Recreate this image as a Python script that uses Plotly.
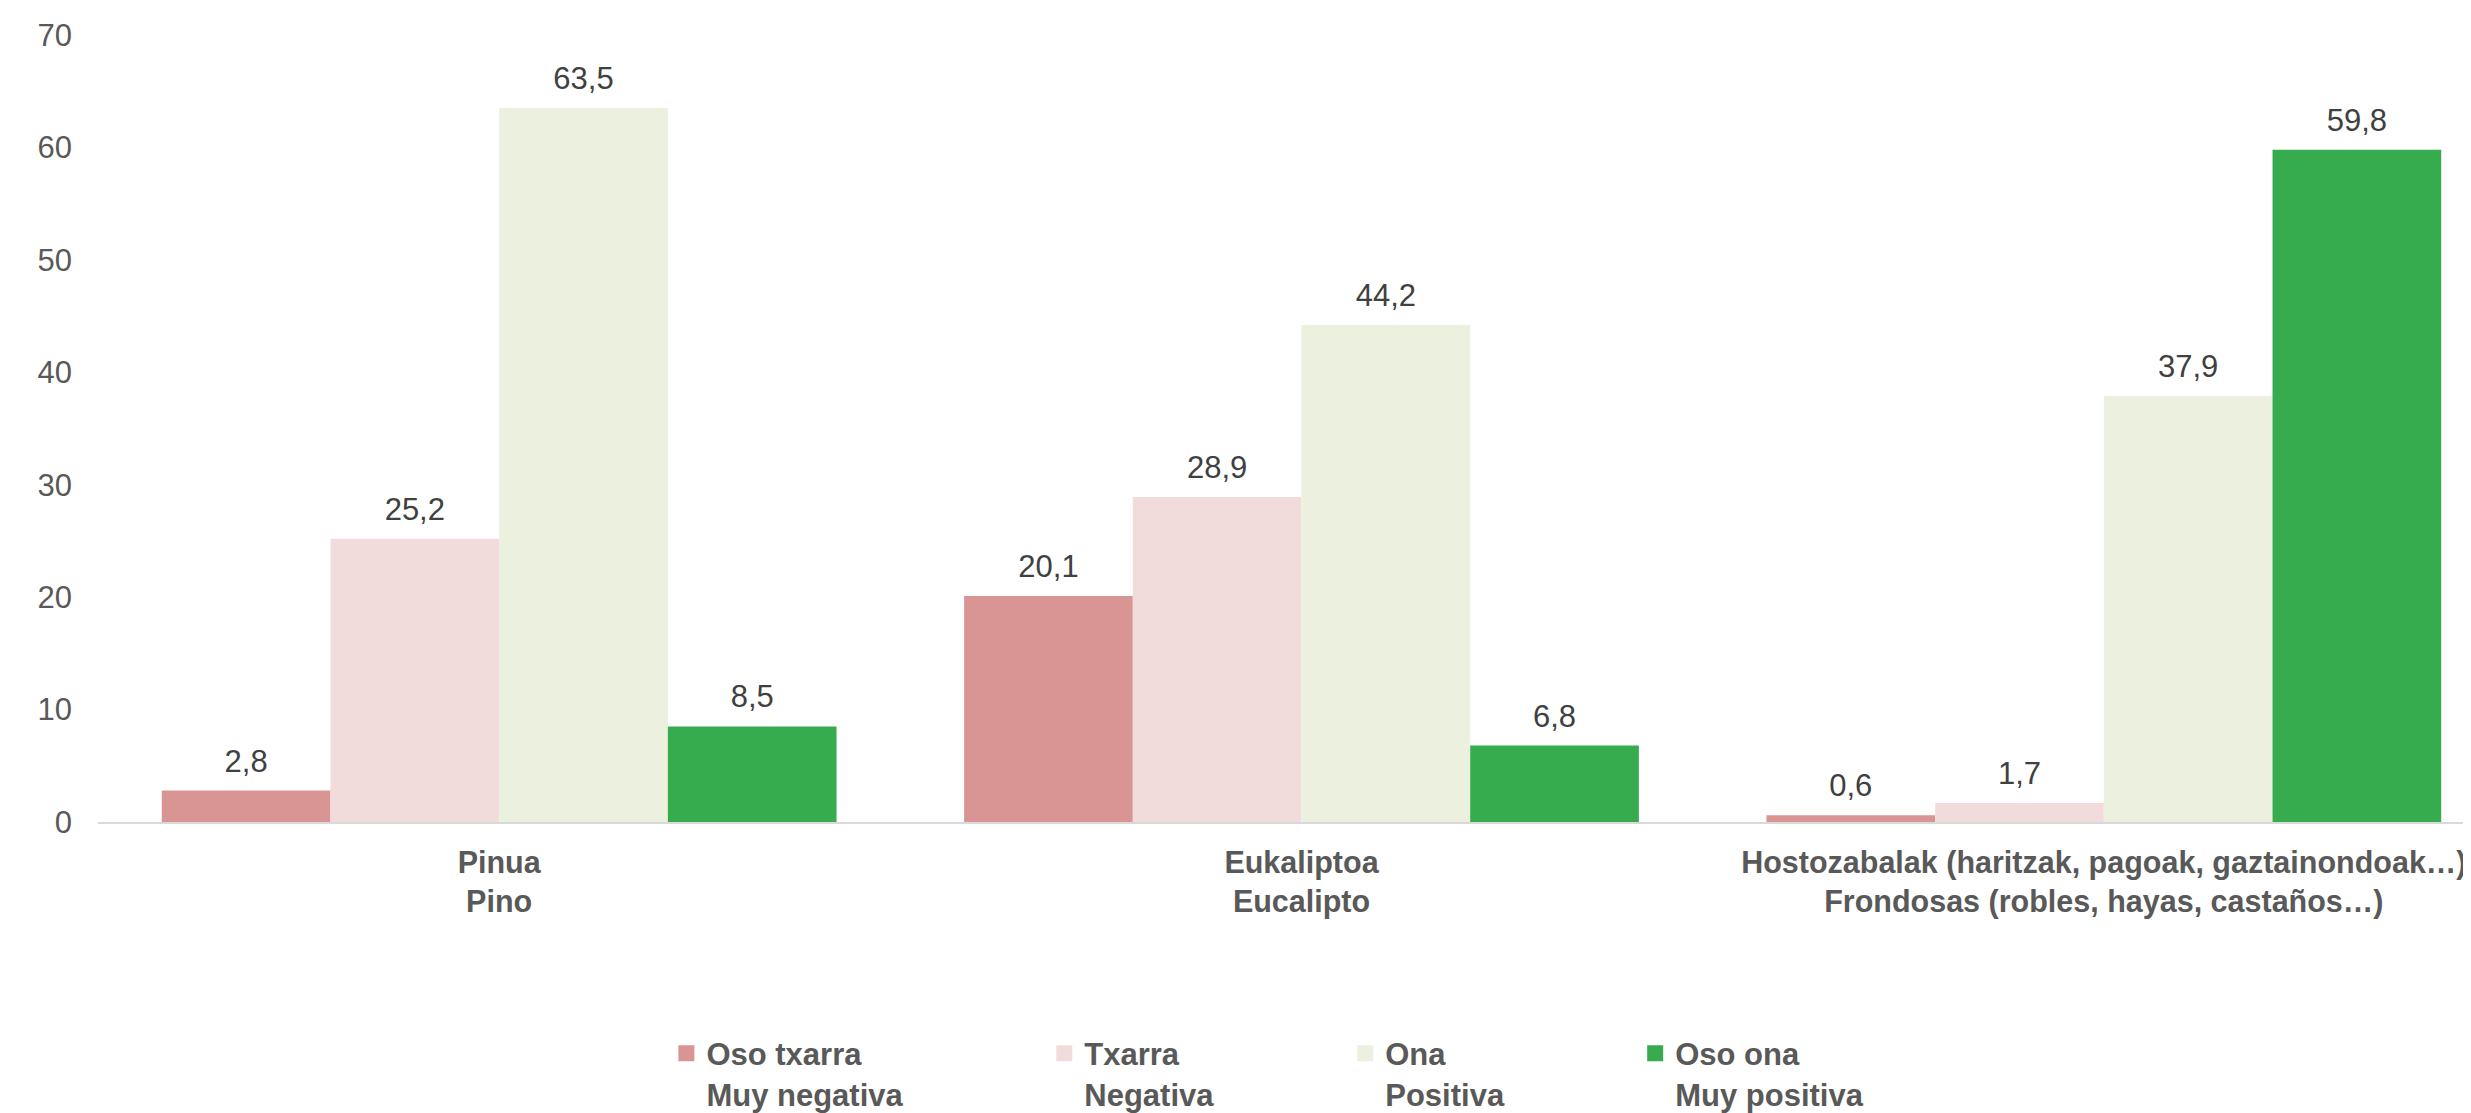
import plotly.graph_objects as go

categories = ["<b>Pinua</b><br><b>Pino</b>",
              "<b>Eukaliptoa</b><br><b>Eucalipto</b>",
              "<b>Hostozabalak (haritzak, pagoak, gaztainondoak…)</b><br><b>Frondosas (robles, hayas, castaños…)</b>"]
series_names = ["<b>Oso txarra</b><br><b>Muy negativa</b>",
                "<b>Txarra</b><br><b>Negativa</b>",
                "<b>Ona</b><br><b>Positiva</b>",
                "<b>Oso ona</b><br><b>Muy positiva</b>"]
oso_txarra = [2.8, 20.1, 0.6]
txarra = [25.2, 28.9, 1.7]
ona = [63.5, 44.2, 37.9]
oso_ona = [8.5, 6.8, 59.8]
y_ticks = [0, 10, 20, 30, 40, 50, 60, 70]

colors = ["#D99594", "#F2DCDB", "#EBF1DE", "#37AC4E"]
values = [oso_txarra, txarra, ona, oso_ona]
legend_ids = ["legend", "legend2", "legend3", "legend4"]

W, H = 2471, 1113
L, R, T, B = 89.5, 0, 26.5, 280.5
pw = W - L - R
ph = H - T - B
legend_px = [658, 1036, 1337, 1627]
legend_top_px = 1042
GAP = 0.159

FONT = "Liberation Sans, Arial, sans-serif"
FS = 31
fig = go.Figure()
for i, (name, vals, col, lid) in enumerate(zip(series_names, values, colors, legend_ids)):
    grp = f"s{i}"
    fig.add_trace(go.Bar(
        x=categories, y=vals, name=name, showlegend=False,
        offsetgroup=grp, alignmentgroup="a",
        marker=dict(color=col, line=dict(width=0)),
        hoverinfo="x+y",
    ))
    # value labels, sitting above each bar
    fig.add_trace(go.Scatter(
        x=categories, y=vals, mode="markers+text", showlegend=False,
        offsetgroup=grp, alignmentgroup="a",
        marker=dict(size=16.4, opacity=0),
        texttemplate="%{y:.1f}", textposition="top center",
        textfont=dict(family=FONT, size=FS, color="#404040"),
        cliponaxis=False, hoverinfo="skip",
    ))
    # legend entry
    fig.add_trace(go.Scatter(
        x=[None], y=[None], mode="markers", name=name, legend=lid,
        offsetgroup=grp, alignmentgroup="a",
        marker=dict(symbol="square", size=16, color=col),
        hoverinfo="skip",
    ))

layout_legends = {}
for lid, px in zip(legend_ids, legend_px):
    layout_legends[lid] = dict(
        x=(px - L) / pw, xanchor="left",
        y=-(legend_top_px - (T + ph)) / ph, yanchor="top",
        orientation="h", valign="top", itemsizing="trace",
        font=dict(family=FONT, size=FS, color="#595959"),
        bgcolor="rgba(0,0,0,0)", borderwidth=0,
    )

fig.update_layout(
    width=W, height=H,
    margin=dict(l=L, r=R, t=T, b=B, pad=0),
    plot_bgcolor="white", paper_bgcolor="white",
    barmode="group", bargap=GAP, bargroupgap=0,
    scattermode="group", scattergap=GAP,
    separators=", ",
    showlegend=True,
    **layout_legends,
)
fig.update_xaxes(
    type="category", range=[-0.5, -0.5 + pw / 802.5],
    showline=True, linecolor="#D9D9D9", linewidth=2,
    showgrid=False, ticks="", ticklabelstandoff=12,
    tickfont=dict(family=FONT, size=30.5, color="#595959"),
)
fig.update_yaxes(
    range=[0, 70], tickvals=y_ticks, showgrid=False, zeroline=False,
    showline=False, ticks="", ticklabelstandoff=25,
    tickfont=dict(family=FONT, size=FS, color="#595959"),
)
fig.write_html("out.html")
